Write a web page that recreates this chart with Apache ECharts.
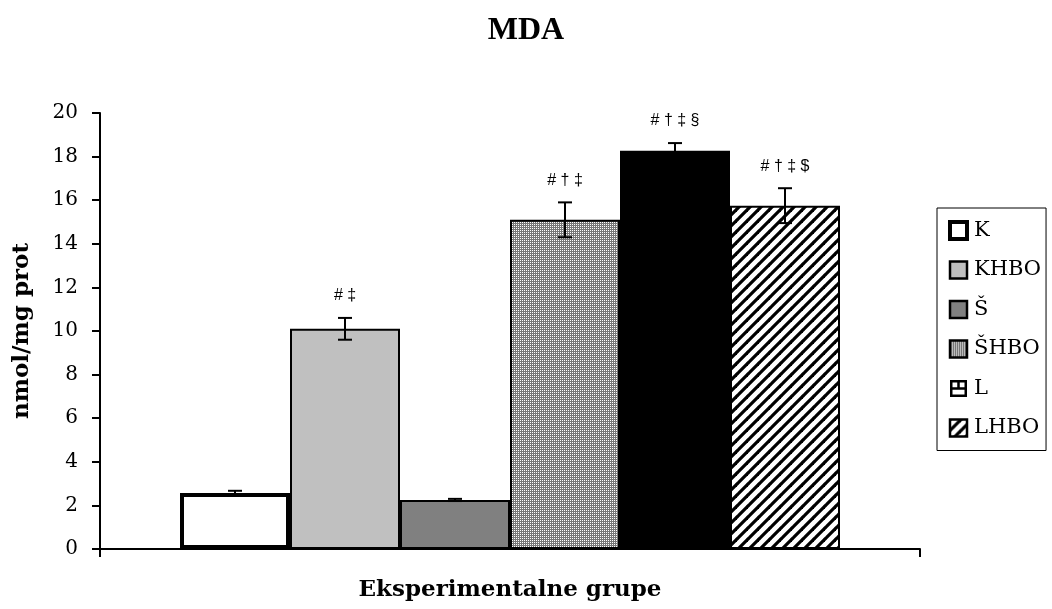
<!DOCTYPE html>
<html><head><meta charset="utf-8">
<script src="https://cdn.jsdelivr.net/npm/echarts@6/dist/echarts.min.js"></script>
<style>html,body{margin:0;padding:0;background:#fff}#c{width:1052px;height:609px}</style>
</head><body><div id="c"></div>
<script>
// ---- data ----
const groups = ['K', 'KHBO', 'Š', 'ŠHBO', 'L', 'LHBO'];
const means = [2.57, 10.1, 2.25, 15.1, 18.27, 15.75];
const errors = [0.1, 0.5, 0.05, 0.8, 0.35, 0.8];
const marks = ['', '# ‡', '', '# † ‡', '# † ‡ §', '# † ‡ $'];
const yMin = 0, yMax = 20, yStep = 2;
const titleText = 'MDA';
const yTitle = 'nmol/mg prot';
const xTitle = 'Eksperimentalne grupe';

// ---- patterns ----
function makeCanvas(w, h, draw) {
  const c = document.createElement('canvas'); c.width = w; c.height = h;
  draw(c.getContext('2d')); return c;
}
const dots = makeCanvas(2, 2, ctx => {
  ctx.fillStyle = '#777777'; ctx.fillRect(0, 0, 2, 2);
  ctx.fillStyle = '#ffffff'; ctx.fillRect(0, 0, 1, 1);
});
const stripes = makeCanvas(11, 11, ctx => {
  ctx.fillStyle = '#fff'; ctx.fillRect(0, 0, 11, 11);
  ctx.strokeStyle = '#000'; ctx.lineWidth = 3.2;
  [-11, 0, 11].forEach(o => { ctx.beginPath(); ctx.moveTo(o - 1, 12); ctx.lineTo(o + 12, -1); ctx.stroke(); });
});
const brickIcon = makeCanvas(17, 17, ctx => {
  ctx.fillStyle = '#fff'; ctx.fillRect(0, 0, 17, 17);
  ctx.strokeStyle = '#000'; ctx.lineWidth = 2.5;
  ctx.strokeRect(1.25, 1.25, 14.5, 14.5);
  ctx.beginPath(); ctx.moveTo(1, 8.5); ctx.lineTo(16, 8.5); ctx.moveTo(8.5, 1); ctx.lineTo(8.5, 8.5); ctx.stroke();
});
const fills = [
  '#ffffff',
  '#c0c0c0',
  '#808080',
  { image: dots, repeat: 'repeat' },
  '#000000',
  { image: stripes, repeat: 'repeat' }
];
const serif = 'DejaVu Serif';

const barSeries = groups.map((g, i) => ({
  type: 'bar', name: g, xAxisIndex: 1, yAxisIndex: 1, stack: 'all',
  barCategoryGap: '0%',
  data: groups.map((_, j) => j === i ? means[i] : '-'),
  itemStyle: { color: fills[i], borderColor: '#000', borderWidth: i === 0 ? 4 : 2 },
  emphasis: { disabled: true }
}));

const errSeries = {
  type: 'custom', xAxisIndex: 1, yAxisIndex: 1, z: 5,
  data: groups.map((g, i) => [i, means[i] - errors[i], means[i] + errors[i]]),
  renderItem(params, api) {
    const x = api.value(0);
    const lo = api.coord([x, api.value(1)]);
    const hi = api.coord([x, api.value(2)]);
    const cap = 7;
    const st = { stroke: '#000', lineWidth: 2 };
    return {
      type: 'group', children: [
        { type: 'line', shape: { x1: lo[0], y1: lo[1], x2: hi[0], y2: hi[1] }, style: st },
        { type: 'line', shape: { x1: lo[0] - cap, y1: lo[1], x2: lo[0] + cap, y2: lo[1] }, style: st },
        { type: 'line', shape: { x1: hi[0] - cap, y1: hi[1], x2: hi[0] + cap, y2: hi[1] }, style: st },
        { type: 'text', style: { text: marks[params.dataIndex], x: hi[0], y: hi[1] - 22, align: 'center', verticalAlign: 'middle', font: '16px "Liberation Sans"', fill: '#000' } }
      ]
    };
  }
};

const legendData = groups.map((g, i) => {
  const d = { name: g, icon: 'rect', itemStyle: { borderColor: '#000', borderWidth: i === 0 ? 4 : 2.5 } };
  if (i === 4) d.icon = 'image://' + brickIcon.toDataURL();
  return d;
});

const chart = echarts.init(document.getElementById('c'), null, { renderer: 'canvas' });
chart.setOption({
  animation: false,
  backgroundColor: '#fff',
  title: { text: titleText, left: 'center', top: 10, textStyle: { fontFamily: 'Liberation Serif', fontWeight: 'bold', fontSize: 32, color: '#000' } },
  legend: {
    orient: 'vertical', left: 937, top: 208, data: legendData,
    itemWidth: 17, itemHeight: 17, itemGap: 18.5, selectedMode: false,
    textStyle: { fontFamily: serif, fontSize: 21, color: '#000', lineHeight: 21, padding: [0, 0, 0, 2] },
    borderColor: '#000', borderWidth: 1, padding: [12, 5, 12, 11], borderRadius: 0
  },
  grid: [
    { left: 100, right: 132, top: 113, bottom: 60 },
    { left: 180, width: 660, top: 113, bottom: 60 }
  ],
  xAxis: [
    { type: 'category', gridIndex: 0, data: [''], boundaryGap: true,
      axisLine: { lineStyle: { color: '#000', width: 2 } },
      axisTick: { show: true, length: 8, lineStyle: { color: '#000', width: 2 } },
      axisLabel: { show: false },
      name: xTitle, nameLocation: 'middle', nameGap: 30,
      nameTextStyle: { fontFamily: serif, fontWeight: 'bold', fontSize: 23, color: '#000' } },
    { type: 'category', gridIndex: 1, data: groups, show: false }
  ],
  yAxis: [
    { type: 'value', gridIndex: 0, min: yMin, max: yMax, interval: yStep,
      axisLine: { show: true, lineStyle: { color: '#000', width: 2 } },
      axisTick: { show: true, length: 8, lineStyle: { color: '#000', width: 2 } },
      splitLine: { show: false },
      axisLabel: { fontFamily: serif, fontSize: 20, color: '#000', margin: 22 },
      name: yTitle, nameLocation: 'middle', nameGap: 66,
      nameTextStyle: { fontFamily: serif, fontWeight: 'bold', fontSize: 23, color: '#000' } },
    { type: 'value', gridIndex: 1, min: yMin, max: yMax, interval: yStep, show: false }
  ],
  series: barSeries.concat([errSeries])
});
</script>
</body></html>
